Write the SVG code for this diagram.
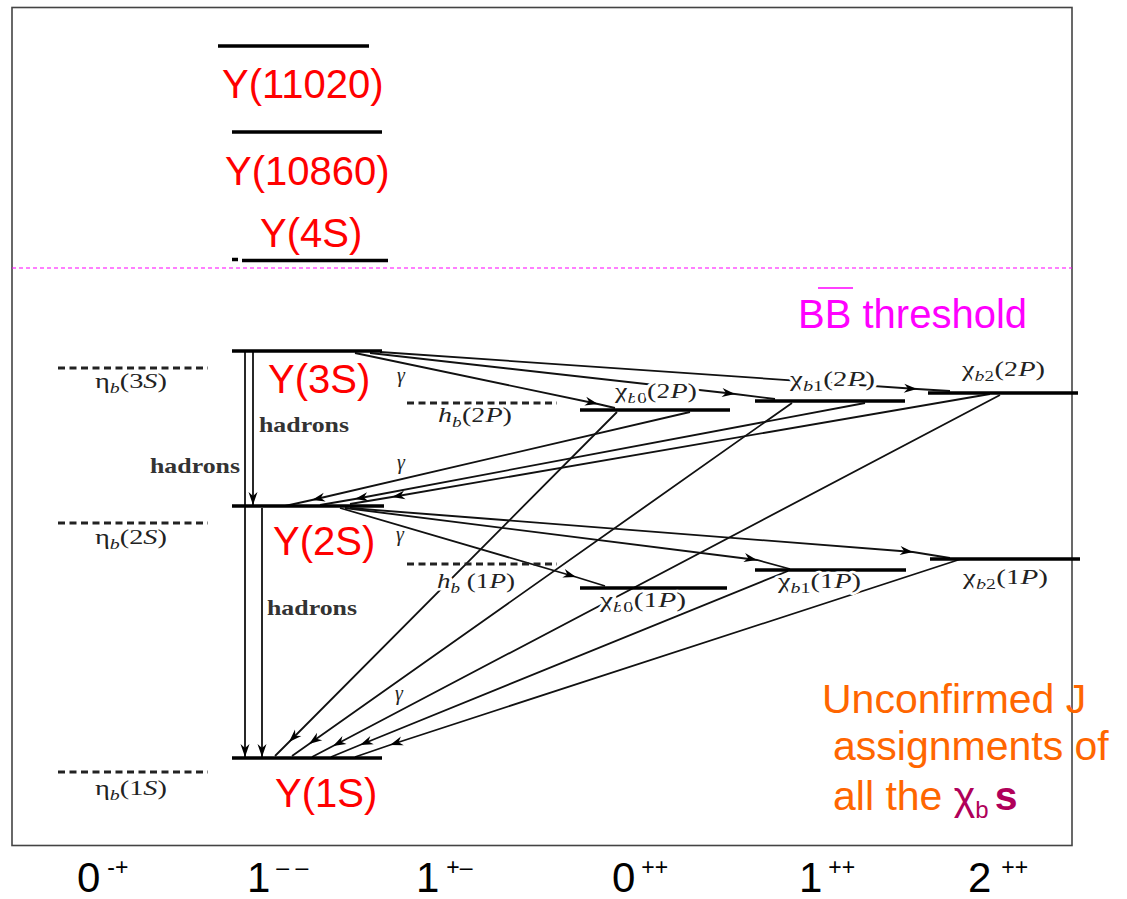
<svg xmlns="http://www.w3.org/2000/svg" width="1127" height="899" viewBox="0 0 1127 899">
<defs>
<marker id="ah" viewBox="-14 -6 15 12" markerWidth="15" markerHeight="12" refX="0" refY="0" orient="auto" markerUnits="userSpaceOnUse">
<path d="M0,0 L-13,-4.5 L-9,0 L-13,4.5 Z" fill="#000"/>
</marker>
</defs>
<style>
.lvl{stroke:#000;stroke-width:3.5;fill:none}
.dash{stroke:#222;stroke-width:3;stroke-dasharray:7 4.5;fill:none}
.red{font-family:"Liberation Sans",Arial,sans-serif;font-size:40px;fill:#ff0000}
.ser{font-family:"Liberation Serif","Times New Roman",serif;font-size:20px;fill:#222}
.had{font-size:21px;font-weight:bold;fill:#333}
.it{font-style:italic}
.sb{font-size:14px}
.conn path{fill:none;stroke:#111;stroke-width:1.8}
.ax{font-family:"Liberation Sans",Arial,sans-serif;font-size:42px;fill:#000}
.sup{font-size:23px}
.halo{paint-order:stroke;stroke:#fff;stroke-width:5px;stroke-linejoin:round}
.orng{font-family:"Liberation Sans",Arial,sans-serif;font-size:41px;fill:#ff6600}
</style>
<rect x="12" y="7.5" width="1060" height="838" fill="none" stroke="#444" stroke-width="1.6"/>
<line x1="12" y1="268" x2="1072" y2="268" stroke="#ff00ff" stroke-width="1.2" stroke-dasharray="4 3"/>

<g id="connectors" class="conn">
<path d="M253,352 L253,505" marker-end="url(#ah)"/>
<path d="M245,352 L245,757" marker-end="url(#ah)"/>
<path d="M262,508 L262,757" marker-end="url(#ah)"/>
<path d="M355,353 L598,404 L615,408" marker-mid="url(#ah)"/>
<path d="M370,353 L735,394 L775,399" marker-mid="url(#ah)"/>
<path d="M380,352 L917,389 L950,391" marker-mid="url(#ah)"/>
<path d="M690,412 L312,500 L285,506" marker-mid="url(#ah)"/>
<path d="M865,403 L355,499 L320,505" marker-mid="url(#ah)"/>
<path d="M990,394 L392,497 L350,504" marker-mid="url(#ah)"/>
<path d="M340,508 L576,577 L605,586" marker-mid="url(#ah)"/>
<path d="M345,508 L757,560 L790,569" marker-mid="url(#ah)"/>
<path d="M350,508 L913,552 L950,558" marker-mid="url(#ah)"/>
<path d="M617,412 L289,742 L275,756" marker-mid="url(#ah)"/>
<path d="M792,403 L309,744 L292,756" marker-mid="url(#ah)"/>
<path d="M1000,395 L333,746 L312,757" marker-mid="url(#ah)"/>
<path d="M788,571 L360,745 L331,757" marker-mid="url(#ah)"/>
<path d="M961,559 L390,745 L355,757" marker-mid="url(#ah)"/>
</g>

<g id="Y11020">
<line x1="218" y1="46" x2="369" y2="46" class="lvl" stroke-width="5"/>
<text class="red" x="222" y="98">Υ(11020)</text>
</g>
<g id="Y10860">
<line x1="232" y1="132" x2="382" y2="132" class="lvl"/>
<text class="red" x="225" y="185">Υ(10860)</text>
</g>
<g id="Y4S">
<line x1="232" y1="259.5" x2="238" y2="259.5" class="lvl" stroke-width="3"/>
<line x1="242" y1="260.5" x2="388" y2="260.5" class="lvl" stroke-width="7"/>
<text class="red" x="260" y="247">Υ(4S)</text>
</g>
<g id="Y3S">
<line x1="232" y1="351" x2="382" y2="351" class="lvl"/>
<text class="red" x="268" y="393">Υ(3S)</text>
</g>
<g id="Y2S">
<line x1="232" y1="506" x2="384" y2="506" class="lvl"/>
<text class="red" x="273" y="555">Υ(2S)</text>
</g>
<g id="Y1S">
<line x1="232" y1="758" x2="382" y2="758" class="lvl"/>
<text class="red" x="275" y="807">Υ(1S)</text>
</g>

<g id="etab3S">
<line x1="58" y1="368" x2="208" y2="368" class="dash"/>
<text class="ser" x="95" y="388" textLength="72" lengthAdjust="spacingAndGlyphs">η<tspan class="sb it" dy="5">b</tspan><tspan dy="-5">(3</tspan><tspan class="it">S</tspan>)</text>
</g>
<g id="etab2S">
<line x1="58" y1="523" x2="208" y2="523" class="dash"/>
<text class="ser" x="95" y="544" textLength="72" lengthAdjust="spacingAndGlyphs">η<tspan class="sb it" dy="5">b</tspan><tspan dy="-5">(2</tspan><tspan class="it">S</tspan>)</text>
</g>
<g id="etab1S">
<line x1="58" y1="772" x2="208" y2="772" class="dash"/>
<text class="ser" x="95" y="795" textLength="72" lengthAdjust="spacingAndGlyphs">η<tspan class="sb it" dy="5">b</tspan><tspan dy="-5">(1</tspan><tspan class="it">S</tspan>)</text>
</g>

<g id="hadron-labels">
<text class="ser had" x="259" y="432" textLength="90" lengthAdjust="spacingAndGlyphs">hadrons</text>
<text class="ser had" x="150" y="473" textLength="90" lengthAdjust="spacingAndGlyphs">hadrons</text>
<text class="ser had" x="267" y="615" textLength="90" lengthAdjust="spacingAndGlyphs">hadrons</text>
</g>
<g id="gamma-labels">
<text class="ser it" x="397" y="382">γ</text>
<text class="ser it" x="397" y="469">γ</text>
<text class="ser it" x="396" y="541">γ</text>
<text class="ser it" x="395" y="700">γ</text>
</g>

<g id="hb2P">
<line x1="407" y1="403" x2="557" y2="403" class="dash"/>
<text class="ser halo" x="438" y="422" textLength="74" lengthAdjust="spacingAndGlyphs"><tspan class="it">h</tspan><tspan class="sb it" dy="5">b</tspan><tspan dy="-5">(2</tspan><tspan class="it">P</tspan>)</text>
</g>
<g id="hb1P">
<line x1="407" y1="564" x2="557" y2="564" class="dash"/>
<text class="ser halo" x="437" y="588" textLength="78" lengthAdjust="spacingAndGlyphs"><tspan class="it">h</tspan><tspan class="sb it" dy="5">b</tspan><tspan dy="-5"> (1</tspan><tspan class="it">P</tspan>)</text>
</g>
<g id="chib02P">
<line x1="580" y1="410" x2="730" y2="410" class="lvl"/>
<text class="ser halo" x="615" y="398" textLength="82" lengthAdjust="spacingAndGlyphs">χ<tspan class="sb" dy="5"><tspan class="it">b</tspan>0</tspan><tspan dy="-5">(2</tspan><tspan class="it">P</tspan>)</text>
</g>
<g id="chib12P">
<line x1="755" y1="401" x2="905" y2="401" class="lvl"/>
<text class="ser halo" x="790" y="386" textLength="85" lengthAdjust="spacingAndGlyphs">χ<tspan class="sb" dy="5"><tspan class="it">b</tspan>1</tspan><tspan dy="-5">(2</tspan><tspan class="it">P</tspan>)</text>
</g>
<g id="chib22P">
<line x1="928" y1="393" x2="1078" y2="393" class="lvl"/>
<text class="ser halo" x="962" y="376" textLength="83" lengthAdjust="spacingAndGlyphs">χ<tspan class="sb" dy="5"><tspan class="it">b</tspan>2</tspan><tspan dy="-5">(2</tspan><tspan class="it">P</tspan>)</text>
</g>
<g id="chib01P">
<line x1="580" y1="588" x2="727" y2="588" class="lvl" stroke-width="2"/>
<text class="ser halo" x="600" y="607" textLength="86" lengthAdjust="spacingAndGlyphs">χ<tspan class="sb" dy="5"><tspan class="it">b</tspan>0</tspan><tspan dy="-5">(1</tspan><tspan class="it">P</tspan>)</text>
</g>
<g id="chib11P">
<line x1="755" y1="570" x2="906" y2="570" class="lvl"/>
<text class="ser halo" x="778" y="588" textLength="83" lengthAdjust="spacingAndGlyphs">χ<tspan class="sb" dy="5"><tspan class="it">b</tspan>1</tspan><tspan dy="-5">(1</tspan><tspan class="it">P</tspan>)</text>
</g>
<g id="chib21P">
<line x1="930" y1="559" x2="1080" y2="559" class="lvl"/>
<text class="ser halo" x="963" y="584" textLength="85" lengthAdjust="spacingAndGlyphs">χ<tspan class="sb" dy="5"><tspan class="it">b</tspan>2</tspan><tspan dy="-5">(1</tspan><tspan class="it">P</tspan>)</text>
</g>

<g id="threshold">
<text x="798" y="328" font-family="Liberation Sans, Arial, sans-serif" font-size="40" fill="#ff00ff">BB threshold</text>
<line x1="818" y1="288" x2="853" y2="288" stroke="#ff00ff" stroke-width="1.5"/>
</g>

<g id="note">
<text class="orng" x="822" y="713">Unconfirmed J</text>
<text class="orng" x="833" y="760">assignments of</text>
<text class="orng" x="833" y="810">all the <tspan fill="#b0005a">χ</tspan><tspan fill="#b0005a" font-size="24" dy="8">b</tspan><tspan fill="#b0005a" dy="-8" dx="6" font-weight="bold">s</tspan></text>
</g>

<g id="axis">
<text class="ax" x="77" y="892">0<tspan class="sup" dx="7" dy="-17">-+</tspan></text>
<text class="ax" x="247" y="892">1<tspan class="sup" dx="6" dy="-17">– –</tspan></text>
<text class="ax" x="416" y="892">1<tspan class="sup" dx="7" dy="-17">+–</tspan></text>
<text class="ax" x="612" y="892">0<tspan class="sup" dx="6" dy="-17">++</tspan></text>
<text class="ax" x="799" y="892">1<tspan class="sup" dx="6" dy="-17">++</tspan></text>
<text class="ax" x="968" y="892">2<tspan class="sup" dx="10" dy="-17">++</tspan></text>
</g>
</svg>
